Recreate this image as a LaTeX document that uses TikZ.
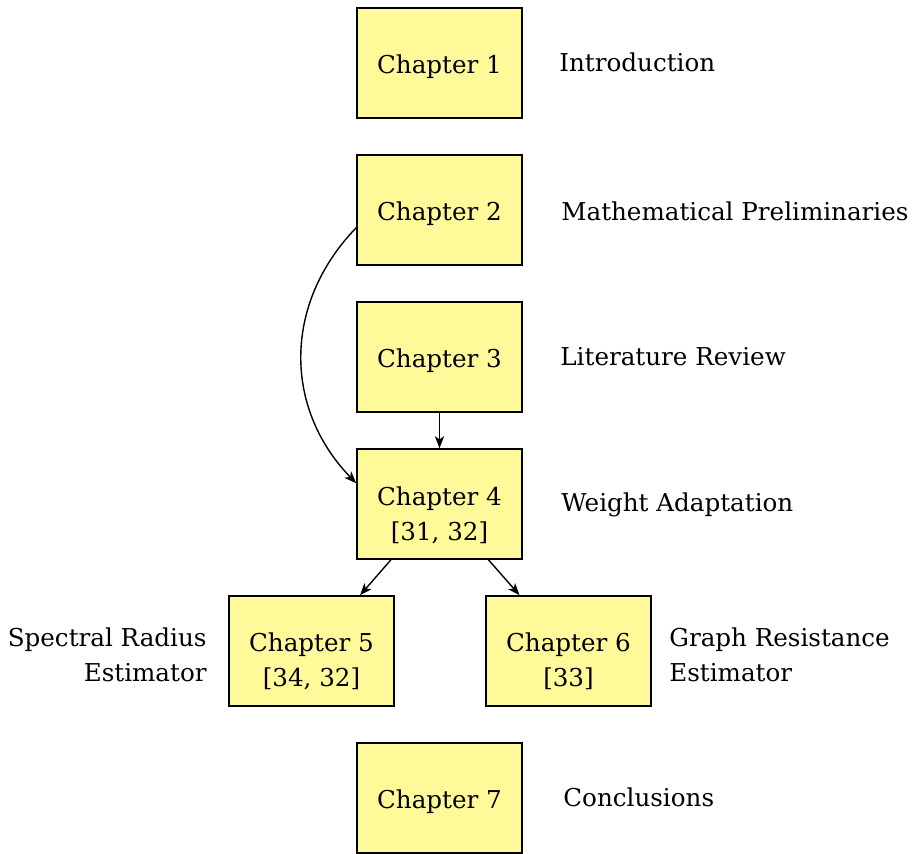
\documentclass[tikz,border=0pt]{standalone}
\usepackage{fontspec}
\setmainfont{DejaVu Serif}
\usetikzlibrary{arrows.meta}
\begin{document}
\begin{tikzpicture}[x=0.5pt,y=0.5pt,
  every node/.style={font=\fontsize{12.3}{17.5}\selectfont},
  chap/.style={draw=black, line width=0.8pt, fill=yellow!40, minimum width=82.5pt, minimum height=55pt, inner sep=0pt},
  ctext/.style={inner sep=0pt, align=center},
  lbl/.style={inner sep=0pt},
  arr/.style={-{Stealth[length=6pt,width=4.6pt,inset=1.6pt]}, line width=0.7pt}]
\useasboundingbox (0,0) rectangle (915,-853);
\node[chap] (c1) at (439.5,-63) {};
\node[chap] (c2) at (439.5,-210) {};
\node[chap] (c3) at (439.5,-357) {};
\node[chap] (c4) at (439.5,-504) {};
\node[chap] (c5) at (311.5,-651) {};
\node[chap] (c6) at (568.5,-651) {};
\node[chap] (c7) at (439.5,-798) {};
\node[ctext] (t1) at ([yshift=-2pt]c1.center) {Chapter 1};
\node[ctext] (t2) at ([yshift=-2pt]c2.center) {Chapter 2};
\node[ctext] (t3) at ([yshift=-2pt]c3.center) {Chapter 3};
\node[ctext] (t4) at ([yshift=-5.5pt]c4.center) {Chapter 4\\{}[31, 32]};
\node[ctext] (t5) at ([yshift=-5pt]c5.center) {Chapter 5\\{}[34, 32]};
\node[ctext] (t6) at ([yshift=-5pt]c6.center) {Chapter 6\\{}[33]};
\node[ctext] (t7) at ([yshift=-2pt]c7.center) {Chapter 7};
\node[lbl, anchor=west] (l1) at (559,-62) {Introduction};
\node[lbl, anchor=west] (l2) at (561,-211) {Mathematical Preliminaries};
\node[lbl, anchor=west] (l3) at (560,-357) {Literature Review};
\node[lbl, anchor=west] (l4) at (561,-505) {Weight Adaptation};
\node[lbl, anchor=east, align=right] (l5) at (207,-655) {Spectral Radius\\Estimator};
\node[lbl, anchor=west, align=left] (l6) at (669,-655) {Graph Resistance\\Estimator};
\node[lbl, anchor=west] (l7) at (563,-797) {Conclusions};
\draw[arr] (c3) -- (c4);
\draw[arr] (c4) -- (c5);
\draw[arr] (c4) -- (c6);
\draw[arr] (c2.192) .. controls +(226:105) and +(134:105) .. (c4.166);
\end{tikzpicture}
\end{document}
